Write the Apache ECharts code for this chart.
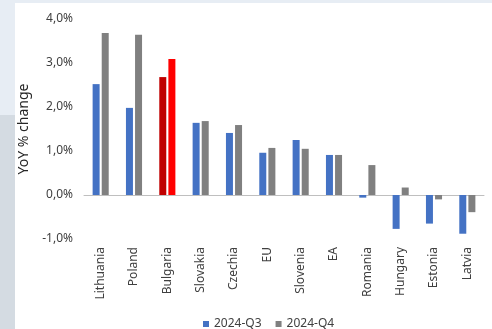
<!DOCTYPE html>
<html><head><meta charset="utf-8">
<script src="https://cdn.jsdelivr.net/npm/echarts@6/dist/echarts.min.js"></script>
<style>html,body{margin:0;padding:0;background:#fff}#c{width:492px;height:329px}</style>
</head><body><div id="c"></div>
<script>
const categories = ['Lithuania','Poland','Bulgaria','Slovakia','Czechia','EU','Slovenia','EA','Romania','Hungary','Estonia','Latvia'];
const q3 = [2.52, 1.98, 2.68, 1.64, 1.41, 0.96, 1.25, 0.91, -0.06, -0.77, -0.65, -0.88];
const q4 = [3.68, 3.64, 3.09, 1.68, 1.59, 1.07, 1.05, 0.91, 0.68, 0.17, -0.10, -0.39];
const seriesNames = ['2024-Q3', '2024-Q4'];
const highlight = 'Bulgaria';

const font = 'Noto Sans';
const chart = echarts.init(document.getElementById('c'));
function mk(vals, hi) {
  return vals.map((v, i) => categories[i] === highlight ? {value: v, itemStyle: {color: hi}} : v);
}
chart.setOption({
  backgroundColor: '#ffffff',
  animation: false,
  textStyle: {fontFamily: font},
  graphic: [
    {type: 'rect', shape: {x: 0, y: 0, width: 492, height: 3}, style: {fill: '#e7edf4'}, silent: true, z: -10},
    {type: 'rect', shape: {x: 0, y: 0, width: 15, height: 115}, style: {fill: '#e7edf4'}, silent: true, z: -10},
    {type: 'rect', shape: {x: 0, y: 115, width: 15, height: 214}, style: {fill: '#d4dbe2'}, silent: true, z: -10}
  ],
  grid: {left: 84, right: 8, top: 19, bottom: 90, containLabel: false, outerBoundsMode: 'none'},
  legend: {
    data: seriesNames, left: 198, top: 313, itemWidth: 6, itemHeight: 6, itemGap: 14,
    icon: 'rect', textStyle: {fontSize: 12, color: '#404040', fontFamily: font}
  },
  xAxis: {
    type: 'category', data: categories,
    axisLine: {onZero: true, lineStyle: {color: '#bfbfbf', width: 1}},
    axisTick: {show: false},
    axisLabel: {rotate: 90, margin: 8, fontSize: 12, color: '#404040', fontFamily: font, interval: 0}
  },
  yAxis: {
    type: 'value', min: -1, max: 4, interval: 1,
    name: 'YoY % change', nameLocation: 'middle', nameRotate: 90, nameGap: 38,
    nameTextStyle: {fontSize: 14, color: '#262626', fontFamily: font},
    axisLine: {show: false}, axisTick: {show: false}, splitLine: {show: false},
    axisLabel: {fontSize: 12, color: '#404040', fontFamily: font, margin: 11,
      formatter: v => v.toFixed(1).replace('.', ',') + '%'}
  },
  series: [
    {name: seriesNames[0], type: 'bar', data: mk(q3, '#c00000'), barWidth: 7, barGap: '30%',
     itemStyle: {color: '#4472c4'}},
    {name: seriesNames[1], type: 'bar', data: mk(q4, '#ff0000'), barWidth: 7,
     itemStyle: {color: '#808080'}}
  ]
});
</script></body></html>
